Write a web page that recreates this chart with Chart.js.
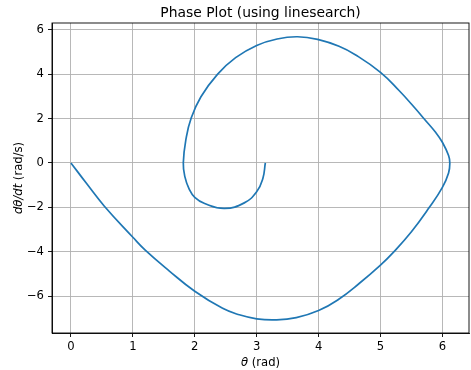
<!DOCTYPE html>
<html>
<head>
<meta charset="utf-8">
<script src="https://cdn.jsdelivr.net/npm/chart.js@4.4.0/dist/chart.umd.min.js"></script>
<style>
  html, body { margin: 0; padding: 0; background: #fff; }
</style>
</head>
<body>
<canvas id="phaseChart" width="471" height="370"></canvas>
<script>
const plotTitle = 'Phase Plot (using linesearch)';

const thetaValues = [0, 0.25, 0.54, 1.0, 1.2, 1.59, 2.0, 2.45, 2.72, 3.0, 3.29, 3.64, 4.0, 4.32,
  4.66, 5.0, 5.2, 5.5, 5.79, 6.0, 6.1, 6.12, 6.1, 6.0, 5.89, 5.7, 5.57, 5.3, 5.0, 4.6, 4.33, 4.0,
  3.66, 3.33, 3.0, 2.66, 2.37, 2.1, 1.94, 1.86, 1.815, 1.84, 1.91, 2.0, 2.16, 2.48, 2.8,
  3.0, 3.1, 3.14];
const omegaValues = [0, -0.92, -1.95, -3.35, -3.93, -4.87, -5.78, -6.55, -6.84, -7.02, -7.07, -6.97, -6.65, -6.15,
  -5.42, -4.6, -4.05, -3.1, -2.0, -1.1, -0.45, 0, 0.33, 0.93, 1.38, 2.0, 2.43, 3.26, 4.08, 4.86, 5.25, 5.55,
  5.68, 5.58, 5.29, 4.74, 4.0, 2.98, 2.0, 1.1, 0, -0.62, -1.18, -1.55, -1.83, -2.05, -1.8,
  -1.3, -0.7, 0];

const xTicks = [0, 1, 2, 3, 4, 5, 6];
const yTicks = [-6, -4, -2, 0, 2, 4, 6];

const points = thetaValues.map((t, i) => ({ x: t, y: omegaValues[i] }));

function fmt(v) {
  return v < 0 ? '\u2212' + Math.abs(v) : String(v);
}

function drawParts(ctx, parts, cx, cy, rot) {
  ctx.save();
  ctx.translate(cx, cy);
  ctx.rotate(rot);
  let total = 0;
  parts.forEach(p => { ctx.font = p.font; total += ctx.measureText(p.text).width; });
  let x = -total / 2;
  ctx.textAlign = 'left';
  ctx.textBaseline = 'alphabetic';
  parts.forEach(p => {
    ctx.font = p.font;
    ctx.fillText(p.text, x, 0);
    x += ctx.measureText(p.text).width;
  });
  ctx.restore();
}

const framePlugin = {
  id: 'frame',
  afterDraw(chart) {
    const { ctx, chartArea: a } = chart;
    ctx.save();
    ctx.strokeStyle = '#000';
    ctx.lineWidth = 0.9;
    ctx.strokeRect(a.left, a.top, a.right - a.left, a.bottom - a.top);
    ctx.fillStyle = '#000';
    ctx.font = '13.9px "DejaVu Sans"';
    ctx.textAlign = 'center';
    ctx.fillText(plotTitle, (a.left + a.right) / 2, 17);
    const it = 'italic 11.6px "DejaVu Sans"';
    const up = '11.6px "DejaVu Sans"';
    drawParts(ctx, [{ text: '\u03b8', font: it }, { text: ' (rad)', font: up }],
      (a.left + a.right) / 2, 366, 0);
    drawParts(ctx, [{ text: 'd\u03b8/dt', font: it }, { text: ' (rad/s)', font: up }],
      21.5, (a.top + a.bottom) / 2, -Math.PI / 2);
    ctx.restore();
  }
};

Chart.defaults.font.family = '"DejaVu Sans", sans-serif';
Chart.defaults.color = '#000';

const ctx = document.getElementById('phaseChart').getContext('2d');
new Chart(ctx, {
  type: 'line',
  data: {
    datasets: [{
      data: points,
      borderColor: '#1f77b4',
      borderWidth: 1.7,
      pointRadius: 0,
      tension: 0.45,
      cubicInterpolationMode: 'default',
      fill: false
    }]
  },
  options: {
    responsive: false,
    animation: false,
    layout: { padding: { top: 23, right: 2, left: 0, bottom: 0 } },
    plugins: {
      legend: { display: false },
      tooltip: { enabled: false },
      title: { display: false }
    },
    scales: {
      x: {
        type: 'linear',
        min: -0.306,
        max: 6.43,
        afterBuildTicks: s => { s.ticks = xTicks.map(v => ({ value: v })); },
        afterFit: s => { s.height = 37; },
        ticks: { font: { size: 11.6 }, padding: 3, maxRotation: 0, callback: fmt },
        grid: { color: '#b0b0b0', lineWidth: 0.9, tickLength: 4, tickColor: '#000', tickWidth: 0.9 },
        border: { color: '#000', width: 0.9 }
      },
      y: {
        type: 'linear',
        min: -7.66,
        max: 6.3,
        afterBuildTicks: s => { s.ticks = yTicks.map(v => ({ value: v })); },
        afterFit: s => { s.width = 52; },
        ticks: { font: { size: 11.6 }, padding: 4, callback: fmt },
        grid: { color: '#b0b0b0', lineWidth: 0.9, tickLength: 4, tickColor: '#000', tickWidth: 0.9 },
        border: { color: '#000', width: 0.9 }
      }
    }
  },
  plugins: [framePlugin]
});
</script>
</body>
</html>
